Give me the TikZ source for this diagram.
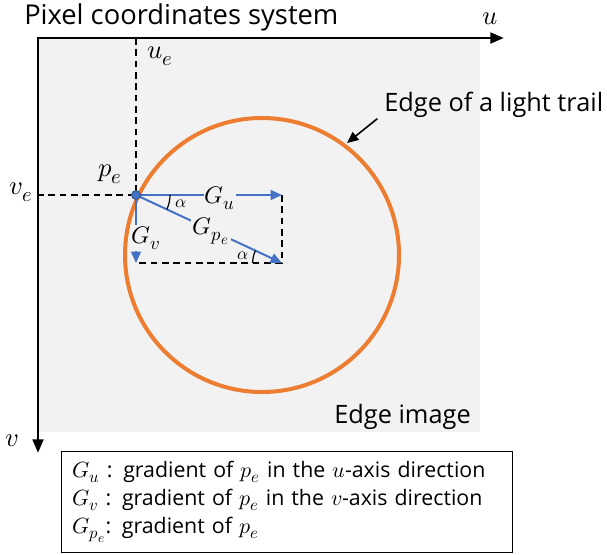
\documentclass[tikz,border=0pt]{standalone}
\usepackage{fontspec}
\usepackage{unicode-math}
\setmainfont{Open Sans}
\setmathfont{Latin Modern Math}
\DeclareMathSizes{20}{20}{15.5}{12}
\DeclareMathSizes{18}{18}{14}{11}
\DeclareMathSizes{16}{16.5}{12.5}{10}
\usetikzlibrary{arrows.meta, positioning, calc, angles}

\definecolor{bggray}{RGB}{242,242,242}
\definecolor{trailorange}{RGB}{237,125,49}
\definecolor{gradblue}{RGB}{68,114,196}

\begin{document}
\begin{tikzpicture}[
        x=0.75pt, y=-0.75pt,
        font=\fontsize{20}{23}\selectfont,
        axis/.style={line width=2.2pt, {Triangle[length=3.6mm, width=2.8mm]}-{Triangle[length=3.6mm, width=2.8mm]}},
        guide/.style={line width=1.5pt, dash pattern=on 5pt off 3.5pt},
        trail/.style={draw=trailorange, line width=3pt},
        grad/.style={draw=gradblue, line width=1.5pt, -{Triangle[length=3mm, width=2.6mm]}},
        gradlabel/.style={fill=bggray, inner sep=1pt, font=\fontsize{18}{20}\selectfont},
        anglemark/.style={draw, line width=0.9pt},
        anglelabel/.style={inner sep=0pt, font=\fontsize{13}{15}\selectfont},
        caption/.style={inner sep=0pt, font=\fontsize{19}{22}\selectfont},
        pointer/.style={line width=1.2pt, -{Triangle[length=3mm, width=2.6mm]}},
        legend/.style={draw, line width=1pt, align=left, text width=322pt, inner xsep=8pt, inner ysep=7pt, font=\fontsize{16}{21}\selectfont}
    ]
    \useasboundingbox (0,0) rectangle (607,554);

    % Edge image background
    \fill[bggray] (38,38) rectangle (480,432);

    % Axes
    \coordinate (origin) at (38,38);
    \coordinate (uend) at (504,38);
    \coordinate (vend) at (38,453);
    \draw[axis] (vend) -- (origin) -- (uend);
    \node (title) [caption, anchor=base west] at (24,24) {\fontsize{20.5}{24}\selectfont Pixel coordinates system};
    \node (ulabel) at (490,19) {$u$};
    \node (vlabel) at (12,441) {$v$};

    % Light trail edge
    \draw[trail] (262,255) circle [radius=137];
    \node (traillabel) [caption, anchor=base west] at (384,111) {Edge of a light trail};
    \coordinate (trailpt) at (347,143);
    \draw[pointer] ([xshift=-5pt, yshift=-1pt]traillabel.south west) -- (trailpt);
    \node (edgeimg) [caption, anchor=base east] at (471,423) {Edge image};

    % Edge point and guides
    \coordinate (pe) at (136,195);
    \coordinate (ue) at (136,38);
    \coordinate (ve) at (38,195);
    \coordinate (gu) at (282,195);
    \coordinate (gv) at (136,263);
    \coordinate (corner) at (282,263);
    \draw[guide] (ue) -- (pe) -- (ve);
    \draw[guide] (gu) -- (corner) -- (gv);
    \node (uelabel) at (160,56) {$u_e$};
    \node (velabel) at (21,192) {$v_e$};
    \node (pelabel) at (110,174) {$p_e$};

    % Gradients
    \draw[grad] (pe) -- (gu);
    \draw[grad] (pe) -- (gv);
    \draw[grad] (pe) -- (corner);
    \node (gulabel) [gradlabel] at (220,198) {$G_u$};
    \node (gvlabel) [gradlabel] at (146,238) {$G_v$};
    \node (gpelabel) [gradlabel] at (211,231) {$G_{p_e}$};
    \fill[gradblue, draw=gradblue!70!black, line width=0.6pt] (pe) circle [radius=4.5];

    % Angles
    \pic[anglemark, angle radius=25.5pt] {angle = corner--pe--gu};
    \pic[anglemark, angle radius=22pt] {angle = pe--corner--gv};
    \node (alphaup) [anglelabel] at (181,204) {$\alpha$};
    \node (alphadown) [anglelabel] at (243,256) {$\alpha$};

    % Legend
    \node (legend) [legend, anchor=north west] at (61,451) {%
        $G_u$ : gradient of $p_e$ in the $u$-axis direction\\
        $G_v$ : gradient of $p_e$ in the $v$-axis direction\\
        $G_{p_e}$: gradient of $p_e$};

\end{tikzpicture}
\end{document}
